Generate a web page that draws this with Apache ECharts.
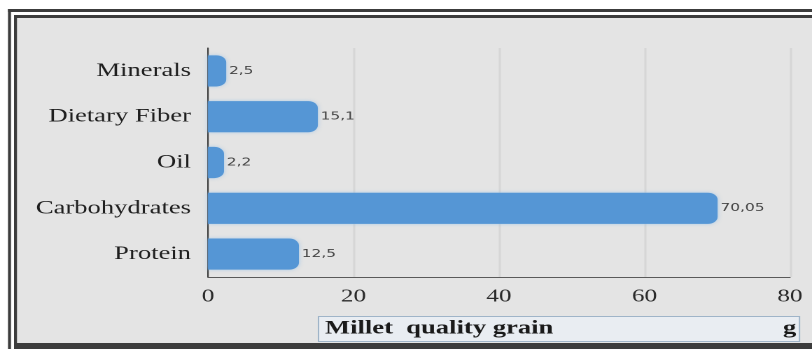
<!DOCTYPE html>
<html>
<head>
<meta charset="utf-8">
<script src="https://cdn.jsdelivr.net/npm/echarts@6/dist/echarts.min.js"></script>
<style>
  html, body { margin: 0; padding: 0; background: #fff; overflow: hidden; }
  /* the source picture is stretched sideways, so the chart is drawn narrow and widened */
  #chart { width: 580px; height: 349px; transform: scaleX(1.4); transform-origin: 0 0; }
</style>
</head>
<body>
<div id="chart"></div>
<script>
// grain composition, g per 100 g
const categories = ['Protein', 'Carbohydrates', 'Oil', 'Dietary Fiber', 'Minerals']
const values = [12.5, 70.05, 2.2, 15.1, 2.5]
const tickValues = [0, 20, 40, 60, 80]

const SX = 1.4
const px = (x) => x / SX

const chart = echarts.init(document.getElementById('chart'), null, { devicePixelRatio: 2 })

const serif = '"Liberation Serif", "DejaVu Serif", serif'
const frame = '#3c3c3c'

const option = {
  backgroundColor: '#ffffff',
  animation: false,
  graphic: [
    // panel
    { type: 'rect', shape: { x: px(17), y: 18, width: px(812), height: 325 },
      style: { fill: '#e4e4e4' }, z: -10 },
    // double frame
    { type: 'rect', shape: { x: px(8), y: 9, width: px(812), height: 3 }, style: { fill: frame }, z: -9 },
    { type: 'rect', shape: { x: px(8), y: 9, width: px(3), height: 340 }, style: { fill: frame }, z: -9 },
    { type: 'rect', shape: { x: px(14), y: 15, width: px(812), height: 3 }, style: { fill: frame }, z: -9 },
    { type: 'rect', shape: { x: px(14), y: 15, width: px(3), height: 334 }, style: { fill: frame }, z: -9 },
    { type: 'rect', shape: { x: px(14), y: 343, width: px(812), height: 6 }, style: { fill: frame }, z: -9 },
    // axis title box
    { type: 'rect', shape: { x: px(318.5), y: 316.5, width: px(481), height: 25 },
      style: { fill: '#e9edf2', stroke: '#9fb4c8', lineWidth: 1 }, z: 5 },
    { type: 'text', left: px(325), top: 319,
      style: { text: 'Millet  quality grain', font: 'bold 19px ' + serif, fill: '#1a1a1a' }, z: 6 },
    { type: 'text', left: px(783), top: 319,
      style: { text: 'g', font: 'bold 19px ' + serif, fill: '#1a1a1a' }, z: 6 }
  ],
  grid: {
    left: px(208),
    right: px(22),
    top: 48,
    bottom: 72,
    containLabel: false
  },
  xAxis: {
    type: 'value',
    min: 0,
    max: 80,
    interval: 20,
    axisLine: { show: true, lineStyle: { color: '#5a5a5a', width: 1 } },
    axisTick: { show: false },
    splitLine: { show: true, lineStyle: { color: '#d6d6d6', width: 1.5 } },
    axisLabel: {
      color: '#2a2a2a',
      fontFamily: serif,
      fontSize: 18,
      margin: 11,
      formatter: (v) => tickValues.includes(v) ? String(v) : ''
    }
  },
  yAxis: {
    type: 'category',
    data: categories,
    axisLine: { show: true, lineStyle: { color: '#3a3a3a', width: 1 } },
    axisTick: { show: false },
    axisLabel: {
      color: '#1e1e1e',
      fontFamily: serif,
      fontSize: 19,
      margin: px(17)
    }
  },
  series: [
    {
      type: 'bar',
      data: values,
      barWidth: '68%',
      itemStyle: {
        color: '#5596d5',
        borderRadius: [0, 7, 7, 0],
        shadowColor: 'rgba(140,190,235,0.7)',
        shadowBlur: 3
      },
      label: {
        show: true,
        position: 'right',
        distance: 2,
        color: '#444444',
        fontFamily: '"DejaVu Sans", sans-serif',
        fontSize: 11,
        formatter: (p) => String(p.value).replace('.', ',')
      }
    }
  ]
}

chart.setOption(option)
</script>
</body>
</html>
